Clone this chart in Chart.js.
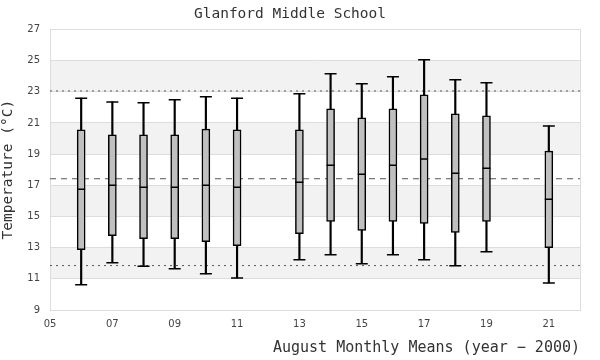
<!DOCTYPE html>
<html>
<head>
<meta charset="utf-8">
<script src="https://cdn.jsdelivr.net/npm/chart.js@4/dist/chart.umd.min.js"></script>
<style>
html,body{margin:0;padding:0;background:#fff;}
#wrap{width:600px;height:360px;position:relative;}
</style>
</head>
<body>
<div id="wrap"><canvas id="c" width="600" height="360"></canvas></div>
<script>
// ---- data ----
const years   = [6, 7, 8, 9, 10, 11, 13, 14, 15, 16, 17, 18, 19, 21];
const lowV    = [10.62, 12.03, 11.80, 11.65, 11.32, 11.06, 12.23, 12.55, 11.97, 12.55, 12.23, 11.84, 12.74, 10.74];
const q1V     = [12.87, 13.77, 13.58, 13.58, 13.39, 13.13, 13.90, 14.68, 14.10, 14.68, 14.55, 13.97, 14.68, 13.00];
const medV    = [16.75, 17.00, 16.87, 16.87, 17.00, 16.87, 17.19, 18.29, 17.71, 18.29, 18.68, 17.77, 18.10, 16.10];
const q3V     = [20.55, 20.23, 20.23, 20.23, 20.61, 20.55, 20.55, 21.90, 21.32, 21.90, 22.81, 21.58, 21.45, 19.19];
const highV   = [22.59, 22.35, 22.29, 22.48, 22.68, 22.59, 22.87, 24.16, 23.52, 23.97, 25.06, 23.77, 23.58, 20.81];
const meanLine  = 17.42;
const upperLine = 23.05;
const lowerLine = 11.85;
const bandRanges = [[11, 13], [15, 17], [19, 21], [23, 25]];
const yTicks = [9, 11, 13, 15, 17, 19, 21, 23, 25, 27];
const xTicks = [5, 7, 9, 11, 13, 15, 17, 19, 21];

const whiskers = years.map((x, i) => ({x: x, y: [lowV[i], highV[i]]}));
const boxes    = years.map((x, i) => ({x: x, y: [q1V[i], q3V[i]]}));
const medians  = years.map((x, i) => ({x: x, y: medV[i]}));
const caps     = years.flatMap((x, i) => [{x: x, y: lowV[i]}, {x: x, y: highV[i]}]);
const xMin = 5, xMax = 22;

const bandsUnderGrid = {
  id: 'bandsUnder',
  beforeDraw(chart) {
    if (!chart.chartArea) return;
    const {ctx, chartArea: a, scales: {y}} = chart;
    ctx.save();
    ctx.fillStyle = '#f2f2f2';
    bandRanges.forEach(([lo, hi]) => {
      const y1 = y.getPixelForValue(hi), y2 = y.getPixelForValue(lo);
      ctx.fillRect(a.left, y1, a.right - a.left, y2 - y1);
    });
    ctx.restore();
  }
};

new Chart(document.getElementById('c'), {
  data: {
    datasets: [
      {type: 'line', data: [{x: xMin, y: upperLine}, {x: xMax, y: upperLine}], borderColor: '#555', borderWidth: 1, borderDash: [2, 4], pointRadius: 0, order: 5},
      {type: 'line', data: [{x: xMin, y: meanLine}, {x: xMax, y: meanLine}], borderColor: '#555', borderWidth: 1, borderDash: [6, 5], pointRadius: 0, order: 5},
      {type: 'line', data: [{x: xMin, y: lowerLine}, {x: xMax, y: lowerLine}], borderColor: '#555', borderWidth: 1, borderDash: [2, 4], pointRadius: 0, order: 5},
      {type: 'bar', data: whiskers, backgroundColor: '#000', borderWidth: 0, barThickness: 1.5, grouped: false, order: 4},
      {type: 'bar', data: boxes, backgroundColor: '#c0c0c0', borderColor: '#000', borderWidth: 1.5, borderSkipped: false, barThickness: 8, grouped: false, order: 3},
      {type: 'scatter', data: medians, pointStyle: 'line', pointRadius: 4, borderColor: '#000', pointBorderWidth: 1.5, pointHoverRadius: 4, order: 1},
      {type: 'scatter', data: caps, pointStyle: 'line', pointRadius: 6, borderColor: '#000', pointBorderWidth: 1.5, pointHoverRadius: 6, order: 1}
    ]
  },
  options: {
    responsive: false,
    animation: false,
    events: [],
    layout: {padding: {left: 0, right: 20, top: 0, bottom: 0}},
    plugins: {
      legend: {display: false},
      tooltip: {enabled: false},
      title: {
        display: true,
        text: 'Glanford Middle School',
        color: '#333',
        font: {family: '"DejaVu Sans Mono", monospace', size: 14.5, weight: 'normal'},
        padding: {top: 6, bottom: 6}
      }
    },
    scales: {
      x: {
        type: 'linear', min: xMin, max: xMax, offset: false,
        afterBuildTicks: (s) => { s.ticks = xTicks.map(v => ({value: v})); },
        ticks: {
          callback: (v) => String(v).padStart(2, '0'),
          color: '#444', font: {family: '"DejaVu Sans", sans-serif', size: 10}, padding: 8, maxRotation: 0
        },
        grid: {display: false, drawTicks: false},
        border: {display: true, color: '#ddd', width: 1},
        title: {
          display: true, text: 'August Monthly Means (year \u2212 2000)', align: 'end',
          color: '#333', font: {family: '"DejaVu Sans Mono", monospace', size: 15}, padding: {top: 3, bottom: 3}
        },
        afterFit: (s) => { s.height = 50; }
      },
      y: {
        type: 'linear', min: 9, max: 27,
        afterBuildTicks: (s) => { s.ticks = yTicks.map(v => ({value: v})); },
        ticks: {color: '#444', font: {family: '"DejaVu Sans", sans-serif', size: 10}, padding: 10},
        grid: {color: '#ddd', lineWidth: 1, drawTicks: false},
        border: {display: true, color: '#ddd', width: 1},
        title: {
          display: true, text: 'Temperature (\u00b0C)',
          color: '#333', font: {family: '"DejaVu Sans Mono", monospace', size: 14.5}, padding: {top: 0, bottom: 4}
        },
        afterFit: (s) => { s.width = 50; }
      }
    }
  },
  plugins: [bandsUnderGrid, {
    id: 'rightBorder',
    afterDatasetsDraw(chart) {
      const {ctx, chartArea: a} = chart;
      ctx.save();
      ctx.strokeStyle = '#ddd';
      ctx.lineWidth = 1;
      ctx.beginPath();
      ctx.moveTo(a.right + 0.5, a.top);
      ctx.lineTo(a.right + 0.5, a.bottom);
      ctx.stroke();
      ctx.restore();
    }
  }]
});
</script>
</body>
</html>
